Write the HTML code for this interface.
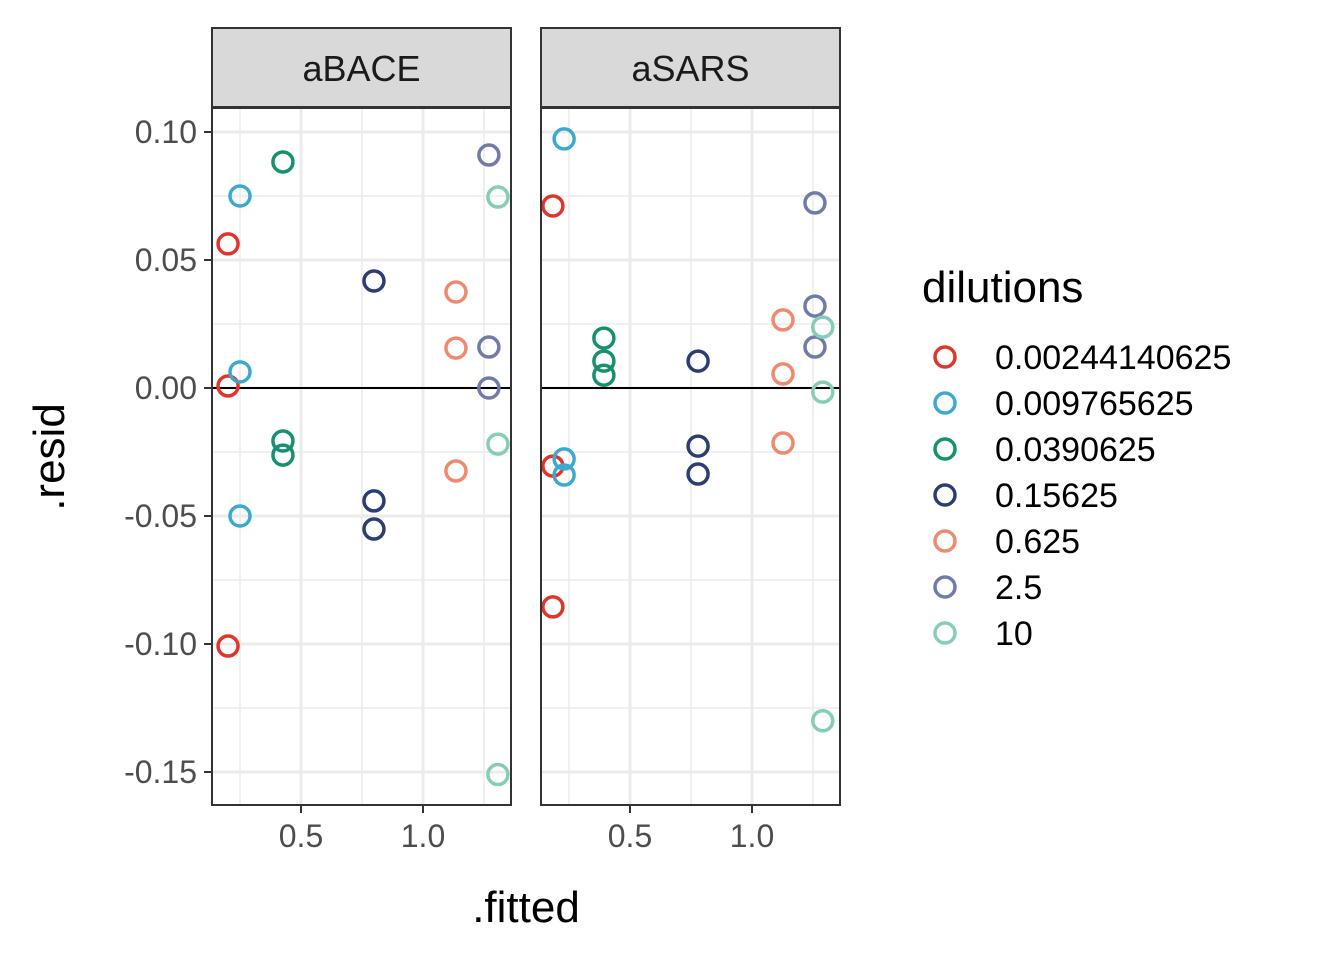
<!DOCTYPE html>
<html><head><meta charset="utf-8"><style>
body{margin:0;background:#fff;}
svg text{font-family:"Liberation Sans",Arial,sans-serif;}
</style></head><body>
<svg width="1344" height="960" xmlns="http://www.w3.org/2000/svg">
<g id="root"></g>
</svg>
<script>
const panels = ["aBACE","aSARS"];
const seriesNames = ["0.00244140625","0.009765625","0.0390625","0.15625","0.625","2.5","10"];
const colors = ["#E0352A","#3DA9D0","#16906F","#2C3D72","#EE8A6E","#6F7CA8","#86CDB5"];
const fittedBACE = [0.201,0.25,0.426,0.799,1.135,1.27,1.307];
const residBACE = [[0.0563,0.0008,-0.1008],[0.075,0.0063,-0.05],[0.0883,-0.0207,-0.0262],[0.0418,-0.0441,-0.0551],[0.0375,0.0156,-0.0324],[0.091,0.016,0],[0.0746,-0.0219,-0.151]];
const fittedSARS = [0.184,0.23,0.393,0.779,1.127,1.258,1.29];
const residSARS = [[0.0711,-0.0305,-0.0855],[0.0973,-0.0277,-0.034],[0.0195,0.0105,0.005],[0.0105,-0.0227,-0.0336],[0.0266,0.0055,-0.0215],[0.0723,0.032,0.016],[0.0238,-0.0016,-0.13]];
const yTicks = [0.10,0.05,0.00,-0.05,-0.10,-0.15];
const yTickLabels = ["0.10","0.05","0.00","-0.05","-0.10","-0.15"];
const yMinor = [0.075,0.025,-0.025,-0.075,-0.125];
const xTicks = [0.5,1.0];
const xTickLabels = ["0.5","1.0"];
const xMinor = [0.25,0.75,1.25];

const NS="http://www.w3.org/2000/svg";
const rootG=document.getElementById('root');
function mk(tag,attrs,parent,name,text){const e=document.createElementNS(NS,tag);for(const k in attrs)e.setAttribute(k,attrs[k]);


if(text!==undefined)e.textContent=text;(parent||rootG).appendChild(e);return e;}
const panelTop=108,panelBottom=805,pw=299;
const panelLeft=[212,541];
function yS(v){return 388-v*2560;}
function xS(v,p){return panelLeft[p]+89+(v-0.5)*244;}
const data=[[fittedBACE,residBACE],[fittedSARS,residSARS]];
panels.forEach((pn,p)=>{
  const g=mk('g',{},rootG,'panel-'+pn);
  const L=panelLeft[p];
  mk('rect',{x:L,y:panelTop,width:pw,height:panelBottom-panelTop,fill:'#fff'},g,'panel-background');
  yMinor.forEach(v=>mk('line',{x1:L,x2:L+pw,y1:yS(v),y2:yS(v),stroke:'#ebebeb','stroke-width':1.5},g,'minor-gridline-y'));
  xMinor.forEach(v=>mk('line',{x1:xS(v,p),x2:xS(v,p),y1:panelTop,y2:panelBottom,stroke:'#ebebeb','stroke-width':1.5},g,'minor-gridline-x'));
  yTicks.forEach(v=>mk('line',{x1:L,x2:L+pw,y1:yS(v),y2:yS(v),stroke:'#ebebeb','stroke-width':3},g,'major-gridline-y'));
  xTicks.forEach((v,i)=>{mk('line',{x1:xS(v,p),x2:xS(v,p),y1:panelTop,y2:panelBottom,stroke:'#ebebeb','stroke-width':3},g,'major-gridline-x');
    mk('line',{x1:xS(v,p),x2:xS(v,p),y1:panelBottom,y2:panelBottom+8,stroke:'#333','stroke-width':2},g,'x-tick');
    mk('text',{x:xS(v,p),y:panelBottom+42,'font-size':32,fill:'#4d4d4d','text-anchor':'middle'},g,'x-tick-label',xTickLabels[i]);});
  mk('line',{x1:L,x2:L+pw,y1:yS(0),y2:yS(0),stroke:'#000','stroke-width':2},g,'zero-line');
  const fx=data[p][0], rs=data[p][1];
  fx.forEach((f,si)=>rs[si].forEach(r=>mk('circle',{cx:xS(f,p),cy:yS(r),r:10,fill:'none',stroke:colors[si],'stroke-width':3.5},g,'point-'+seriesNames[si])));
  mk('rect',{x:L,y:panelTop,width:pw,height:panelBottom-panelTop,fill:'none',stroke:'#333','stroke-width':2},g,'panel-border');
  mk('rect',{x:L,y:28,width:pw,height:79,fill:'#d9d9d9',stroke:'#333','stroke-width':2},g,'strip-background');
  mk('text',{x:L+pw/2,y:81,'font-size':36,fill:'#1a1a1a','text-anchor':'middle'},g,'strip-label',pn);
});
yTicks.forEach((v,i)=>{mk('line',{x1:204,x2:212,y1:yS(v),y2:yS(v),stroke:'#333','stroke-width':2},rootG,'y-tick');
  mk('text',{x:197,y:yS(v)+11,'font-size':32,fill:'#4d4d4d','text-anchor':'end'},rootG,'y-tick-label',yTickLabels[i]);});
mk('text',{x:526,y:922,'font-size':44,fill:'#000','text-anchor':'middle'},rootG,'x-axis-title','.fitted');
mk('text',{x:0,y:0,'font-size':44,fill:'#000','text-anchor':'middle',transform:'translate(64,457) rotate(-90)'},rootG,'y-axis-title','.resid');
const lg=mk('g',{},rootG,'legend');
mk('text',{x:922,y:302,'font-size':44,fill:'#000'},lg,'legend-title','dilutions');
seriesNames.forEach((s,i)=>{const y=357+i*46;
  const e=mk('g',{},lg,'legend-entry');
  mk('circle',{cx:945,cy:y,r:10,fill:'none',stroke:colors[i],'stroke-width':3.5},e,'legend-key');
  mk('text',{x:995,y:y+12,'font-size':34,fill:'#000'},e,'legend-label',s);});
</script>
</body></html>
